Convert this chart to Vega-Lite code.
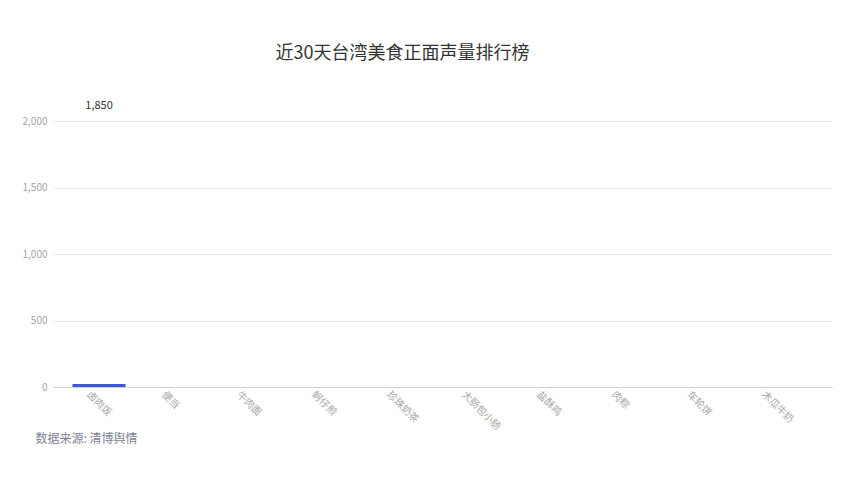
{
  "$schema": "https://vega.github.io/schema/vega-lite/v6.json",
  "autosize": {"type": "none"},
  "width": 779,
  "height": 266,
  "padding": {"left": 53, "top": 121, "right": 22, "bottom": 93},
  "background": "#ffffff",
  "config": {
    "font": "Noto Sans CJK SC",
    "view": {"stroke": null}
  },
  "title": {
    "text": "近30天台湾美食正面声量排行榜",
    "fontSize": 18,
    "fontWeight": "normal",
    "color": "#333333",
    "anchor": "middle",
    "dx": -40,
    "offset": 37,
    "font": "Noto Sans CJK SC"
  },
  "data": {
    "values": [
      {"品类": "卤肉饭", "柱高": 22, "声量": 1850, "标注": "1,850"},
      {"品类": "便当", "柱高": 0, "声量": 0, "标注": ""},
      {"品类": "牛肉面", "柱高": 0, "声量": 0, "标注": ""},
      {"品类": "蚵仔煎", "柱高": 0, "声量": 0, "标注": ""},
      {"品类": "珍珠奶茶", "柱高": 0, "声量": 0, "标注": ""},
      {"品类": "大肠包小肠", "柱高": 0, "声量": 0, "标注": ""},
      {"品类": "盐酥鸡", "柱高": 0, "声量": 0, "标注": ""},
      {"品类": "肉粽", "柱高": 0, "声量": 0, "标注": ""},
      {"品类": "车轮饼", "柱高": 0, "声量": 0, "标注": ""},
      {"品类": "木瓜牛奶", "柱高": 0, "声量": 0, "标注": ""}
    ]
  },
  "encoding": {
    "x": {
      "field": "品类",
      "type": "nominal",
      "sort": null,
      "scale": {"paddingInner": 0.293, "paddingOuter": 0.34, "align": 0.245},
      "axis": {
        "title": "数据来源: 清博舆情",
        "titleX": -18,
        "titleY": 51,
        "titleAlign": "left",
        "titleBaseline": "middle",
        "titleFontSize": 12,
        "titleFontWeight": "normal",
        "titleColor": "#7d8293",
        "titleFont": "Noto Sans CJK SC",
        "labelAngle": 45,
        "labelAlign": "left",
        "labelBaseline": "top",
        "labelPadding": 2,
        "labelFontSize": 10,
        "labelColor": "#a6a6a6",
        "labelFont": "Noto Sans CJK SC",
        "ticks": false,
        "domainColor": "#d0d0d0",
        "grid": false
      }
    }
  },
  "layer": [
    {
      "mark": {"type": "bar", "color": "#3f57d3", "xOffset": 7},
      "encoding": {
        "y": {
          "field": "柱高",
          "type": "quantitative",
          "scale": {"domain": [0, 2000]},
          "axis": {
            "title": null,
            "values": [0, 500, 1000, 1500, 2000],
            "format": ",.0f",
            "labelFontSize": 10,
            "labelColor": "#a6a6a6",
            "labelFont": "Noto Sans CJK SC",
            "labelPadding": 6,
            "ticks": false,
            "domain": false,
            "gridColor": "#e8e8e8"
          }
        }
      }
    },
    {
      "mark": {"type": "text", "fontSize": 11, "color": "#333333", "dy": -35, "xOffset": 7, "baseline": "middle", "font": "Noto Sans CJK SC"},
      "encoding": {
        "y": {"field": "声量", "type": "quantitative"},
        "text": {"field": "标注"}
      }
    }
  ]
}
